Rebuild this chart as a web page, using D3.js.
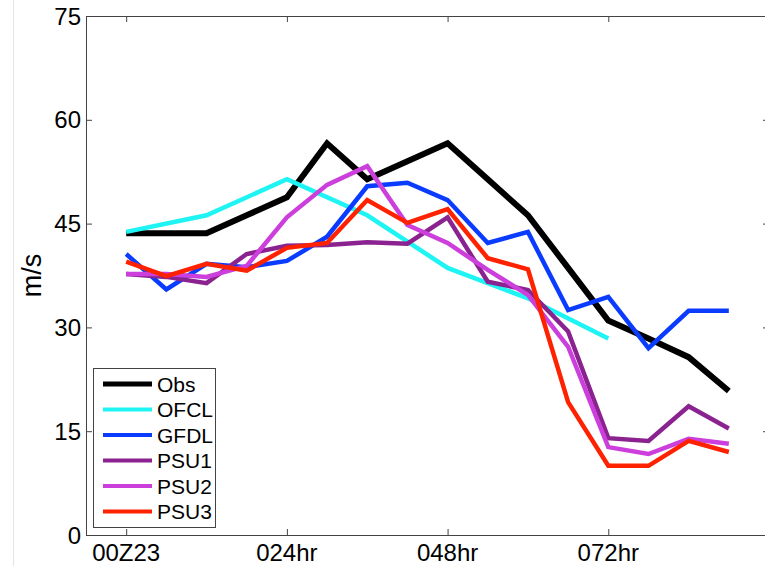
<!DOCTYPE html>
<html>
<head>
<meta charset="utf-8">
<script src="https://cdn.jsdelivr.net/npm/d3@7"></script>
<style>
  html, body { margin: 0; padding: 0; background: #fff; }
  svg { display: block; font-family: "Liberation Sans", Arial, Helvetica, sans-serif; }
</style>
</head>
<body>
<svg id="chart" width="765" height="566"></svg>
<script>
// Forecast hours (every 6 h) and intensity in m/s
const hours = [0, 6, 12, 18, 24, 30, 36, 42, 48, 54, 60, 66, 72, 78, 84, 90];
const ofclHours = [0, 12, 24, 36, 48, 60, 72];

const obs  = [43.6, 43.6, 43.6, 46.2, 48.8, 56.6, 51.4, 54.0, 56.6, 51.4, 46.2, 38.6, 31.0, 28.4, 25.7, 20.8];
const ofcl = [43.8, 46.2, 51.4, 46.2, 38.6, 34.2, 28.4];
const gfdl = [40.6, 35.5, 39.2, 38.7, 39.6, 43.1, 50.4, 50.9, 48.4, 42.2, 43.8, 32.5, 34.4, 27.0, 32.4, 32.4];
const psu1 = [37.7, 37.3, 36.4, 40.6, 41.8, 41.9, 42.3, 42.1, 45.9, 36.6, 35.4, 29.4, 14.0, 13.6, 18.6, 15.4];
const psu2 = [37.7, 37.7, 37.3, 38.9, 45.9, 50.6, 53.3, 44.8, 42.2, 38.3, 34.7, 27.2, 12.7, 11.7, 13.9, 13.2];
const psu3 = [39.5, 37.4, 39.2, 38.2, 41.5, 42.2, 48.4, 45.1, 47.1, 40.0, 38.4, 19.2, 10.0, 10.0, 13.6, 12.0];

const seriesNames = ["Obs", "OFCL", "GFDL", "PSU1", "PSU2", "PSU3"];
const xTicks = [0, 24, 48, 72];
const xTickLabels = ["00Z23", "024hr", "048hr", "072hr"];
const yTicks = [0, 15, 30, 45, 60, 75];

const series = [
  { name: "Obs",  x: hours,     y: obs,  color: "#000000", width: 6 },
  { name: "OFCL", x: ofclHours, y: ofcl, color: "#1ef4f4", width: 4.5 },
  { name: "GFDL", x: hours,     y: gfdl, color: "#0a3cff", width: 4.5 },
  { name: "PSU1", x: hours,     y: psu1, color: "#8a2290", width: 4.5 },
  { name: "PSU2", x: hours,     y: psu2, color: "#cc3fdc", width: 4.5 },
  { name: "PSU3", x: hours,     y: psu3, color: "#ff2200", width: 4.5 }
];

const svg = d3.select("#chart");

const plotLeft = 86, plotRight = 769, plotTop = 16, plotBottom = 535;
const x = d3.scaleLinear().domain([-6, 96]).range([plotLeft, plotRight]);
const y = d3.scaleLinear().domain([0, 75]).range([plotBottom, plotTop]);

// faint window edge on the left
svg.append("line")
  .attr("x1", 13.5).attr("x2", 13.5).attr("y1", 0).attr("y2", 566)
  .attr("stroke", "#e4e4e4").attr("stroke-width", 1);

// axes with inward ticks
const axisColor = "#444";
const gLeft = svg.append("g").attr("transform", `translate(${plotLeft},0)`)
  .call(d3.axisRight(y).tickValues(yTicks).tickSize(6).tickFormat(""));
const gRight = svg.append("g").attr("transform", `translate(${plotRight},0)`)
  .call(d3.axisLeft(y).tickValues(yTicks).tickSize(6).tickFormat(""));
const gBottom = svg.append("g").attr("transform", `translate(0,${plotBottom})`)
  .call(d3.axisTop(x).tickValues(xTicks).tickSize(6).tickFormat(""));
const gTop = svg.append("g").attr("transform", `translate(0,${plotTop})`)
  .call(d3.axisBottom(x).tickValues(xTicks).tickSize(6).tickFormat(""));
[gLeft, gRight, gBottom, gTop].forEach(g => {
  g.select(".domain").remove();
  g.selectAll(".tick line").attr("stroke", axisColor);
});

// plot box
svg.append("rect")
  .attr("x", plotLeft + 0.5).attr("y", plotTop + 0.5)
  .attr("width", plotRight - plotLeft).attr("height", plotBottom - plotTop)
  .attr("fill", "none").attr("stroke", axisColor).attr("stroke-width", 1);

// tick labels
svg.append("g").selectAll("text").data(yTicks).join("text")
  .attr("x", plotLeft - 5).attr("y", d => y(d))
  .attr("dy", "0.36em")
  .attr("text-anchor", "end")
  .attr("font-size", 24)
  .attr("fill", "#000")
  .text(d => d);

svg.append("g").selectAll("text").data(xTicks).join("text")
  .attr("x", d => x(d)).attr("y", 561)
  .attr("text-anchor", "middle")
  .attr("font-size", 24)
  .attr("fill", "#000")
  .text((d, i) => xTickLabels[i]);

// y-axis title
svg.append("text")
  .attr("transform", `translate(41,${(plotTop + plotBottom) / 2}) rotate(-90)`)
  .attr("text-anchor", "middle")
  .attr("font-size", 27)
  .attr("fill", "#000")
  .text("m/s");

// series lines
const line = d3.line().x(d => x(d[0])).y(d => y(d[1]));
svg.append("g").selectAll("path").data(series).join("path")
  .attr("d", s => line(s.x.map((h, i) => [h, s.y[i]])))
  .attr("fill", "none")
  .attr("stroke", s => s.color)
  .attr("stroke-width", s => s.width)
  .attr("stroke-linejoin", "miter")
  .attr("stroke-linecap", "butt");

// legend
const lg = svg.append("g");
lg.append("rect")
  .attr("x", 93.5).attr("y", 368.5).attr("width", 122).attr("height", 159)
  .attr("fill", "#fff").attr("stroke", axisColor).attr("stroke-width", 1);
const entries = lg.selectAll("g.entry").data(series).join("g")
  .attr("class", "entry")
  .attr("transform", (d, i) => `translate(0,${384 + i * 25.5})`);
entries.append("line")
  .attr("x1", 103).attr("x2", 152).attr("y1", 0).attr("y2", 0)
  .attr("stroke", d => d.color)
  .attr("stroke-width", d => d.width === 6 ? 5 : 4);
entries.append("text")
  .attr("x", 157).attr("y", 0).attr("dy", "0.36em")
  .attr("font-size", 21)
  .attr("fill", "#000")
  .text((d, i) => seriesNames[i]);
</script>
</body>
</html>
